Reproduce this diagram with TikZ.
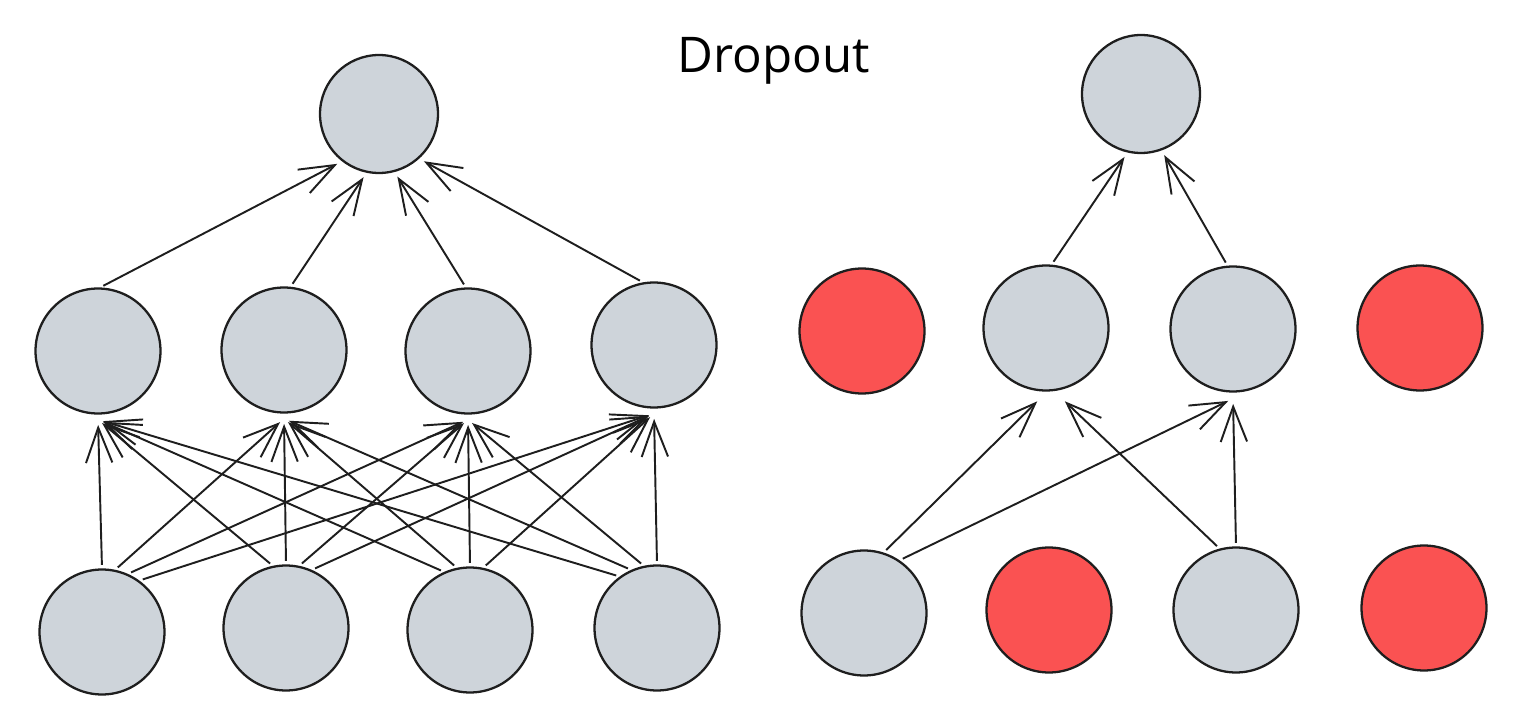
\documentclass[tikz,border=0pt]{standalone}
\usepackage{fontspec}
\setmainfont{Open Sans}
\usetikzlibrary{arrows.meta}
\definecolor{nodegray}{HTML}{CED4DA}
\definecolor{nodered}{HTML}{FA5252}
\definecolor{ink}{HTML}{1E1E1E}
\begin{document}
\begin{tikzpicture}[x=0.02cm,y=-0.02cm,
  neuron/.style={circle,draw=ink,line width=1.3pt,fill=nodegray,minimum size=2.5cm,inner sep=0pt},
  dropped/.style={neuron,fill=nodered},
  conn/.style={draw=ink,line width=1.1pt,-{Straight Barb[length=20pt,width=15pt,line width=1.1pt]},shorten <=2pt,shorten >=3pt},
  title/.style={font=\fontsize{28}{30}\selectfont,anchor=base,text=black}]
\useasboundingbox (0,0) rectangle (1524,702);
\node[title] (t) at (774,73) {Dropout};
% left network
\node[neuron,minimum size=2.36cm] (lt) at (379,114) {};
\node[neuron] (lm1) at (98,351) {};
\node[neuron] (lm2) at (284,350) {};
\node[neuron] (lm3) at (468,351) {};
\node[neuron] (lm4) at (654,345) {};
\node[neuron] (lb1) at (102,632) {};
\node[neuron] (lb2) at (286,628) {};
\node[neuron] (lb3) at (470,630) {};
\node[neuron] (lb4) at (657,628) {};
% right network
\node[neuron,minimum size=2.36cm] (rt) at (1141,94) {};
\node[dropped] (rm1) at (862,331) {};
\node[neuron] (rm2) at (1046,328) {};
\node[neuron] (rm3) at (1233,329) {};
\node[dropped] (rm4) at (1420,328) {};
\node[neuron] (rb1) at (864,613) {};
\node[dropped] (rb2) at (1049,610) {};
\node[neuron] (rb3) at (1236,610) {};
\node[dropped] (rb4) at (1424,608) {};
% left connectors
\foreach \b/\xb in {1/102,2/286,3/470,4/657}{
  \foreach \m/\xm in {1/98,2/284,3/468,4/654}{
    \pgfmathsetmacro\ang{90-0.065*(\xm-\xb)}
    \draw[conn] (lb\b.\ang) -- ([yshift=-0.1cm]lm\m.south);
  }
}
\draw[conn] (lm1.88) -- (lt.232);
\draw[conn] (lm2.84) -- (lt.258);
\draw[conn] (lm3.92) -- (lt.285);
\draw[conn] (lm4.100) -- (lt.312);
% right connectors
\draw[conn] (rb1.72) -- ([xshift=-0.1cm,yshift=-0.12cm]rm2.south);
\draw[conn] (rb1.56) -- ([yshift=-0.12cm]rm3.south);
\draw[conn] (rb3.105) -- ([xshift=0.3cm,yshift=-0.12cm]rm2.south);
\draw[conn] (rb3.90) -- ([yshift=-0.12cm]rm3.south);
\draw[conn] (rm2.85) -- (rt.257);
\draw[conn] (rm3.95) -- (rt.290);
\end{tikzpicture}
\end{document}
